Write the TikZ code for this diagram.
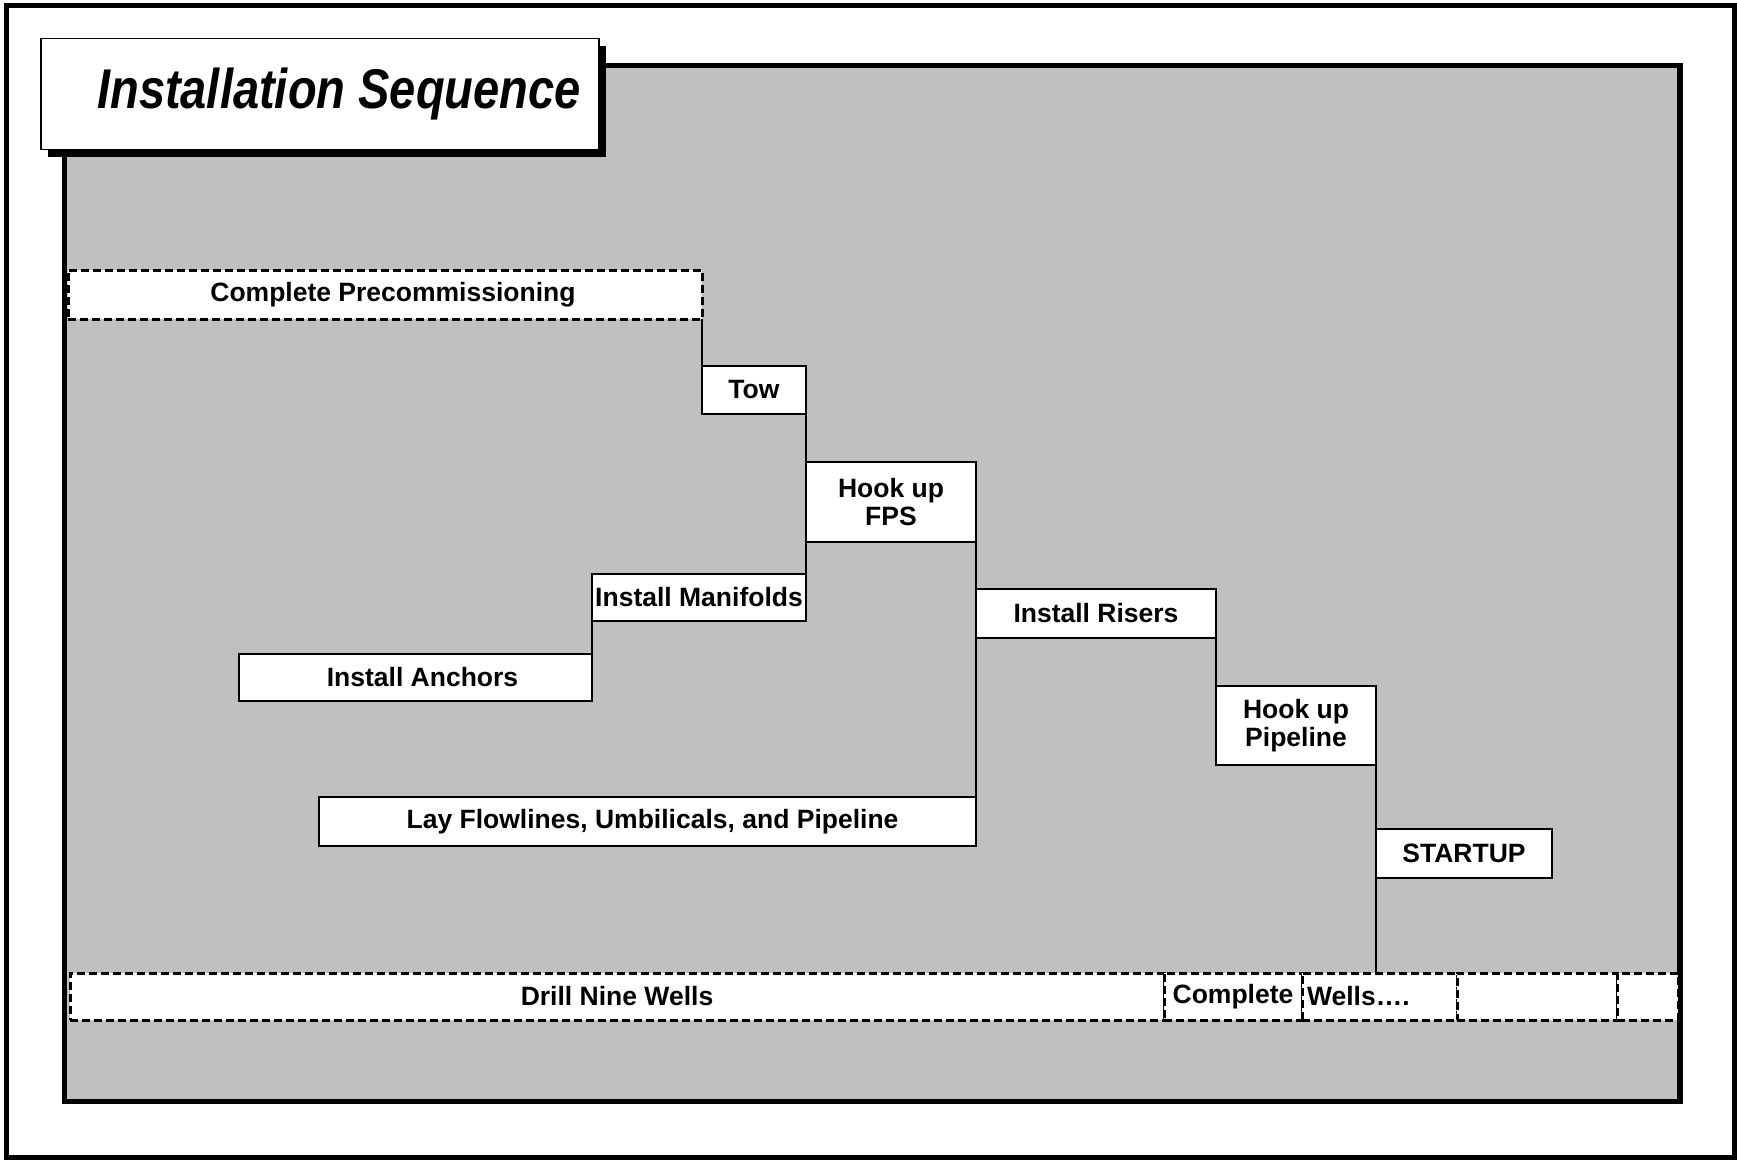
\documentclass[tikz,border=0pt]{standalone}
\usepackage{fontspec}
\setmainfont{Liberation Sans}
\newfontfamily\titlefont[FakeStretch=0.84]{Liberation Sans}
\usetikzlibrary{shadows}
\definecolor{panelgray}{RGB}{192,192,192}

\begin{document}
\begin{tikzpicture}[x=1pt, y=-1pt,
        every node/.style={font=\fontsize{26.5}{28}\selectfont\bfseries},
        task/.style={draw, fill=white, line width=2pt, inner sep=0pt, outer sep=0pt, align=center},
        ongoing/.style={draw, fill=white, line width=3pt, dash pattern=on 8pt off 4pt, inner sep=0pt, outer sep=0pt},
        link/.style={line width=1.5pt}]
        \useasboundingbox (0,0) rectangle (1737,1160);
        % frame and panel
        \draw[line width=5pt] (6.5,5.5) rectangle (1734.5,1157.5);
        \draw[line width=5.5pt, fill=panelgray] (64.5,65.5) rectangle (1680,1101.5);
        % title
        \node[draw, fill=white, line width=1.5pt, inner sep=0pt, minimum width=558pt, minimum height=111pt,
            drop shadow={shadow xshift=7pt, shadow yshift=-7pt, fill=black, opacity=1}] (title) at (320,94) {};
        \node[anchor=base west, inner sep=0pt, font=\titlefont\bfseries\itshape\fontsize{56}{60}\selectfont] (titletext) at (97,108) {Installation Sequence};
        % steps
        \node[ongoing, minimum width=634pt, minimum height=49pt] (precomm) at (385,294.5) {\hspace{16pt}Complete Precommissioning};
        \node[task, minimum width=104pt, minimum height=48pt] (tow) at (754,390) {Tow};
        \node[task, minimum width=170pt, minimum height=80pt] (fps) at (891,502) {Hook up\\FPS};
        \node[task, minimum width=214pt, minimum height=47pt] (manifolds) at (699,597.5) {Install Manifolds};
        \node[task, minimum width=353pt, minimum height=47pt] (anchors) at (415.5,677.5) {\hspace{14pt}Install Anchors};
        \node[task, minimum width=240pt, minimum height=49pt] (risers) at (1096,613.5) {Install Risers};
        \node[task, minimum width=160pt, minimum height=79pt] (pipeline) at (1296,725.5) {Hook up\\Pipeline};
        \node[task, minimum width=176pt, minimum height=49pt] (startup) at (1464,853.5) {STARTUP};
        \node[task, minimum width=657pt, minimum height=49pt] (flowlines) at (647.5,821.5) {\hspace{10pt}Lay Flowlines, Umbilicals, and Pipeline};
        % drilling row
        \node[ongoing, minimum width=1094pt, minimum height=47pt] (drill) at (617,996.5) {Drill Nine Wells};
        \node[ongoing, minimum width=138pt, minimum height=47pt] (complete) at (1233,996.5) {Complete};
        \node[ongoing, minimum width=155pt, minimum height=47pt, text width=145pt, align=left] (wells) at (1379.5,996.5) {Wells….};
        \node[ongoing, minimum width=160pt, minimum height=47pt] (spareA) at (1537,996.5) {};
        \node[ongoing, minimum width=61pt, minimum height=47pt] (spareB) at (1647.5,996.5) {};
        % links
        \draw[link] (precomm.south east) -- (tow.north west);
        \draw[link] (tow.south east) -- (fps.north west);
        \draw[link] (fps.south west) -- (manifolds.north east);
        \draw[link] (manifolds.south west) -- (anchors.north east);
        \draw[link] (fps.south east) -- (flowlines.north east);
        \draw[link] (risers.south east) -- (pipeline.north west);
        \draw[link] (pipeline.south east) -- (startup.north west);
        \draw[link] (startup.south west) -- (startup.south west |- wells.north);
    \end{tikzpicture}
\end{document}
